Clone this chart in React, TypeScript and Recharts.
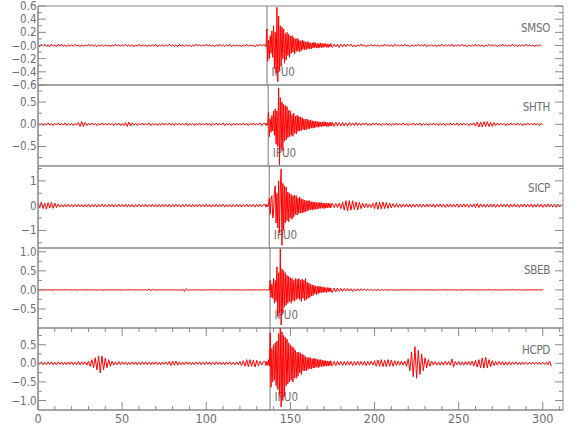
import React from "react";
import { LineChart, Line, XAxis, YAxis, ReferenceLine, ReferenceArea } from "recharts";

// whole traces: one sample per second
const SAMPLE_STEP = 1;

const SMSO = [
  .01,-.02,.02,-.01,.02,-.02,.01,-.02,.02,-.01,.01,-.02,.02,-.01,.02,-.01,.01,-.02,.01,-.01,
  .01,-.01,.02,-.01,.01,-.02,.01,-.01,.01,-.01,.02,-.01,.01,-.01,.01,-.02,.01,-.01,.01,-.01,
  .01,-.01,.01,-.02,.01,-.01,.02,-.01,.01,-.01,.01,-.01,.02,-.01,.01,-.01,.01,-.02,.01,-.01,
  .02,-.01,.01,-.01,.01,-.02,.01,-.01,.01,-.01,.02,-.02,.01,-.01,.01,-.01,.01,-.01,.02,-.01,
  .01,-.01,.01,-.02,.02,-.01,.01,-.01,.01,-.01,.01,-.02,.01,-.01,.02,-.01,.01,-.01,.01,-.01,
  .02,-.01,.01,-.01,.01,-.02,.01,-.01,.02,-.01,.01,-.01,.01,-.01,.02,-.02,.01,-.01,.01,-.01,
  .01,-.02,.01,-.01,.02,-.01,.01,-.01,.01,-.02,.01,-.01,.02,-.01,.01,-.02,.25,-.22,.12,-.15,
  .3,-.35,.58,-.55,.4,-.3,.28,-.25,.2,-.18,.15,-.14,.12,-.1,.1,-.09,.08,-.07,.07,-.06,
  .06,-.05,.05,-.04,.04,-.04,.03,-.03,.04,-.03,.03,-.03,.03,-.02,.03,-.03,.02,-.02,.02,-.03,
  .02,-.02,.02,-.02,.02,-.01,.02,-.02,.01,-.02,.01,-.01,.02,-.01,.01,-.02,.01,-.01,.02,-.01,
  .01,-.01,.01,-.02,.01,-.01,.02,-.01,.01,-.01,.01,-.02,.02,-.01,.01,-.01,.01,-.01,.02,-.01,
  .01,-.02,.01,-.01,.01,-.01,.02,-.01,.01,-.01,.02,-.02,.01,-.01,.01,-.01,.01,-.02,.01,-.01,
  .02,-.01,.01,-.01,.01,-.01,.02,-.02,.01,-.01,.01,-.01,.02,-.01,.01,-.02,.01,-.01,.01,-.01,
  .02,-.01,.01,-.01,.01,-.02,.01,-.01,.02,-.01,.01,-.01,.01,-.02,.01,-.01,.02,-.01,.01,-.01,
  .01,-.01,.02,-.01,.01,-.02,.01,-.01,.01,-.01,.02,-.01,.01,-.01,.01,-.02,.01,-.01,.01,-.01,
];

const SHTH = [
  .03,-.02,.02,-.03,.02,-.02,.03,-.02,.02,-.03,.02,-.02,.03,-.02,.02,-.02,.03,-.03,.02,-.02,
  .02,-.03,.02,-.02,.04,-.05,.06,-.05,.04,-.03,.02,-.02,.03,-.02,.02,-.03,.02,-.02,.03,-.02,
  .02,-.02,.03,-.02,.02,-.03,.02,-.02,.03,-.03,.02,-.03,.04,-.05,.05,-.04,.03,-.02,.02,-.03,
  .02,-.02,.03,-.02,.02,-.02,.03,-.03,.02,-.02,.02,-.03,.02,-.02,.03,-.02,.02,-.02,.03,-.02,
  .02,-.03,.02,-.02,.03,-.02,.02,-.02,.03,-.03,.02,-.02,.02,-.03,.02,-.02,.03,-.02,.02,-.02,
  .03,-.02,.02,-.03,.02,-.02,.03,-.02,.02,-.02,.03,-.03,.02,-.02,.02,-.03,.02,-.02,.03,-.02,
  .02,-.02,.03,-.02,.02,-.03,.02,-.02,.03,-.02,.02,-.02,.03,-.03,.02,-.02,.03,.28,-.28,.15,
  -.2,.35,-.45,.82,-.9,.5,-.6,.45,-.35,.4,-.3,.28,-.25,.22,-.2,.18,-.16,.15,-.14,.12,
  -.12,.1,-.1,.08,-.08,.07,-.08,.07,-.06,.07,-.06,.05,-.05,.05,-.05,.04,-.05,.05,-.04,.04,
  -.04,.04,-.04,.03,-.04,.04,-.03,.03,-.03,.04,-.03,.03,-.03,.03,-.02,.03,-.03,.02,-.03,.03,
  -.02,.03,-.02,.02,-.03,.02,-.02,.03,-.02,.02,-.03,.02,-.02,.03,-.02,.02,-.02,.03,-.02,.02,
  -.03,.02,-.02,.03,-.02,.02,-.02,.03,-.03,.02,-.02,.02,-.03,.02,-.02,.03,-.02,.02,-.03,.02,
  -.02,.02,-.03,.02,-.02,.03,-.02,.02,-.02,.03,-.03,.02,-.02,.03,-.02,.02,-.03,.02,-.02,.03,
  -.04,.05,-.06,.05,-.06,.06,-.05,.06,-.05,.04,-.05,.04,-.03,.03,-.02,.03,-.02,.02,-.03,.02,
  -.02,.03,-.02,.02,-.02,.03,-.02,.02,-.03,.02,-.02,.03,-.02,.02,-.02,.03,-.02,.02,-.03,.02,
  -.02,
];

const SICP = [
  .12,-.1,.15,-.12,.1,-.14,.12,-.1,.13,-.11,.1,-.08,.07,-.06,.05,-.06,.05,-.05,.06,-.05,
  .05,-.06,.05,-.05,.06,-.05,.05,-.06,.05,-.05,.06,-.06,.05,-.05,.05,-.06,.05,-.05,.06,-.05,
  .05,-.05,.06,-.05,.05,-.06,.05,-.05,.06,-.05,.05,-.05,.06,-.06,.05,-.05,.05,-.06,.05,-.05,
  .06,-.05,.05,-.05,.06,-.06,.05,-.05,.06,-.05,.05,-.06,.05,-.05,.06,-.05,.05,-.05,.06,-.06,
  .05,-.05,.06,-.05,.05,-.06,.05,-.05,.06,-.05,.05,-.05,.06,-.06,.05,-.05,.06,-.05,.05,-.05,
  .06,-.05,.05,-.06,.05,-.05,.06,-.05,.05,-.05,.06,-.06,.05,-.05,.05,-.06,.05,-.05,.06,-.05,
  .05,-.06,.05,-.05,.06,-.05,.05,-.05,.06,-.06,.05,-.05,.06,-.05,.05,-.05,.06,.3,-.35,.4,
  -.5,.8,-.7,1.0,-1.1,1.48,-1.6,.9,-1.0,.7,-.6,.55,-.5,.45,-.4,.4,-.35,.3,-.3,.28,
  -.25,.22,-.2,.2,-.18,.16,-.15,.15,-.14,.12,-.12,.12,-.1,.1,-.1,.09,-.08,.08,-.08,.1,
  -.12,.15,-.18,.2,-.22,.2,-.18,.2,-.16,.15,-.18,.14,-.12,.1,-.09,.08,-.08,.07,-.08,.1,
  -.12,.14,-.15,.14,-.13,.15,-.12,.13,-.11,.1,-.09,.08,-.07,.08,-.07,.06,-.07,.06,-.06,.07,
  -.06,.06,-.07,.06,-.06,.07,-.06,.06,-.07,.06,-.06,.07,-.06,.06,-.06,.07,-.07,.06,-.06,.07,
  -.06,.06,-.07,.06,-.06,.07,-.06,.06,-.06,.07,-.07,.06,-.06,.07,-.06,.06,-.07,.06,-.06,.07,
  -.08,.09,-.08,.07,-.06,.06,-.07,.06,-.06,.07,-.06,.06,-.07,.06,-.06,.07,-.06,.06,-.06,.07,
  -.07,.06,-.06,.07,-.06,.06,-.07,.06,-.06,.07,-.06,.06,-.06,.07,-.07,.06,-.06,.07,-.06,.06,
  -.07,.06,-.06,.07,-.06,.06,-.06,.07,-.07,.06,-.06,.05,
];

const SBEB = [
  .005,-.005,.005,-.005,.01,-.005,.005,-.005,.005,-.01,.005,-.005,.005,-.005,.005,-.005,.01,-.005,.005,-.005,
  .005,-.005,.005,-.01,.005,-.005,.005,-.005,.01,-.005,.005,-.005,.005,-.005,.005,-.01,.005,-.005,.005,-.005,
  .005,-.005,.01,-.005,.005,-.005,.005,-.005,.005,-.01,.005,-.005,.005,-.005,.01,-.005,.005,-.005,.005,-.005,
  .005,-.01,.005,-.005,.01,-.015,.02,-.02,.015,-.01,.005,-.005,.005,-.005,.005,-.005,.01,-.005,.005,-.005,
  .005,-.005,.005,-.01,.005,-.01,.02,-.04,.03,-.01,.005,-.005,.005,-.005,.005,-.005,.005,-.01,.005,-.005,
  .005,-.005,.01,-.005,.005,-.005,.005,-.005,.005,-.01,.005,-.005,.005,-.005,.01,-.005,.005,-.005,.005,-.005,
  .005,-.01,.005,-.005,.005,-.005,.005,-.005,.01,-.005,.005,-.005,.005,-.005,.005,-.01,.01,-.01,.25,-.2,
  .3,-.35,.6,-.7,1.08,-.92,.55,-.6,.45,-.4,.35,-.35,.3,-.28,.3,-.25,.3,-.28,.25,-.3,
  .2,-.2,.15,-.15,.1,-.12,.1,-.09,.1,-.08,.07,-.06,.06,-.06,.05,-.06,.05,-.05,.05,-.04,
  .04,-.04,.04,-.03,.04,-.03,.03,-.04,.03,-.03,.03,-.03,.03,-.02,.03,-.02,.02,-.02,.02,-.02,
  .02,-.02,.015,-.02,.015,-.015,.01,-.015,.01,-.01,.01,-.01,.01,-.01,.005,-.01,.005,-.005,.01,-.005,
  .005,-.005,.005,-.01,.005,-.005,.005,-.005,.01,-.005,.005,-.005,.005,-.005,.005,-.01,.005,-.005,.005,-.005,
  .005,-.005,.01,-.005,.005,-.005,.005,-.005,.005,-.01,.005,-.005,.005,-.005,.01,-.005,.005,-.005,.005,-.005,
  .005,-.01,.005,-.005,.005,-.005,.005,-.005,.01,-.005,.005,-.005,.005,-.005,.005,-.01,.005,-.005,.005,-.005,
  .005,-.005,.01,-.005,.005,-.005,.005,-.005,.005,-.01,.005,-.005,.005,-.005,.01,-.005,.005,-.005,.005,-.005,
  .005,
];

const HCPD = [
  .04,-.03,.04,-.04,.03,-.04,.04,-.03,.04,-.04,.03,-.04,.04,-.03,.04,-.04,.03,-.04,.04,-.03,
  .04,-.04,.03,-.04,.05,-.04,.04,-.03,.04,-.05,.06,-.08,.1,-.12,.15,-.18,.2,-.26,.2,-.17,
  .14,-.12,.1,-.08,.06,-.05,.04,-.04,.05,-.04,.04,-.03,.04,-.04,.03,-.04,.04,-.03,.04,-.04,
  .03,-.04,.04,-.03,.04,-.04,.03,-.04,.04,-.03,.04,-.04,.03,-.04,.04,-.03,.04,-.04,.05,-.06,
  .06,-.05,.06,-.05,.04,-.04,.03,-.04,.04,-.03,.04,-.04,.03,-.04,.04,-.03,.04,-.04,.03,-.04,
  .04,-.03,.04,-.04,.03,-.04,.04,-.03,.04,-.04,.03,-.04,.04,-.03,.04,-.04,.03,-.04,.04,-.04,
  .05,-.06,.07,-.08,.1,-.09,.1,-.08,.09,-.1,.08,-.07,.06,-.05,.05,-.06,.05,.1,.82,-.64,
  .5,-.45,.6,-.7,.95,-1.17,.85,-1.0,.7,-.6,.55,-.5,.45,-.45,.35,-.3,.3,-.25,.2,-.2,
  .15,-.14,.15,-.12,.13,-.12,.12,-.1,.1,-.1,.08,-.07,.07,-.06,.06,-.06,.05,-.06,.06,-.05,
  .05,-.06,.05,-.05,.06,-.05,.05,-.06,.05,-.05,.06,-.05,.05,-.05,.06,-.06,.05,-.05,.06,-.05,
  .07,-.08,.09,-.08,.1,-.09,.08,-.09,.1,-.08,.09,-.08,.07,-.06,.06,-.05,.06,-.05,.06,-.08,
  .12,-.2,.3,-.36,.45,-.4,.35,-.3,.25,-.2,.15,-.12,.1,-.08,.06,-.05,.05,-.05,.04,-.05,
  .04,-.05,.05,-.04,.05,-.05,.12,-.1,.05,-.04,.05,-.05,.04,-.05,.05,-.04,.05,-.05,.06,-.07,
  .08,-.1,.1,-.12,.14,-.13,.17,-.12,.1,-.09,.07,-.06,.05,-.05,.05,-.04,.05,-.05,.04,-.05,
  .04,-.04,.04,-.03,.04,-.04,.03,-.04,.04,-.03,.03,-.03,.03,-.03,.03,-.03,.03,-.03,.03,-.03,
  .03,-.03,.03,-.04,.06,-.08,
];

// the P-arrival burst, read at half-second spacing from 135 s to 175 s
const BURST_START = 135;
const BURST_STEP = 0.5;

const SMSO_BURST = [
  .01,-.02,.25,-.24,.08,-.2,.15,-.12,.22,-.18,.3,-.35,.2,-.42,.58,-.55,.45,-.38,.3,-.32,
  .28,-.2,.25,-.27,.18,-.22,.2,-.15,.17,-.18,.14,-.12,.15,-.1,.12,-.13,.1,-.09,.11,-.08,
  .09,-.1,.07,-.08,.08,-.06,.07,-.07,.05,-.06,.06,-.05,.05,-.05,.04,-.05,.04,-.04,.05,-.03,
  .04,-.04,.03,-.04,.03,-.03,.04,-.03,.03,-.03,.03,-.02,.03,-.03,.02,-.03,.02,-.02,.03,-.02,
];
const SHTH_BURST = [
  .02,-.03,.02,-.02,.28,-.28,.12,-.18,.2,-.15,.3,-.25,.35,-.45,.3,-.5,.82,-.92,.6,-.55,
  .5,-.6,.45,-.38,.42,-.35,.4,-.3,.32,-.28,.3,-.25,.22,-.27,.25,-.2,.18,-.22,.2,-.16,
  .18,-.15,.16,-.14,.15,-.12,.12,-.13,.11,-.12,.12,-.1,.09,-.1,.1,-.08,.08,-.09,.07,-.08,
  .07,-.06,.06,-.07,.06,-.05,.05,-.06,.05,-.05,.06,-.04,.05,-.05,.04,-.05,.04,-.04,.05,-.04,
];
const SICP_BURST = [
  .05,-.06,.05,-.05,.06,.3,-.35,.25,.4,-.5,-.3,.6,.8,-.7,.5,-.9,1.0,-1.1,.7,1.48,
  -1.6,.9,-1.0,.8,-.7,.75,-.6,.55,-.65,.5,-.5,.45,-.55,.4,-.45,.42,-.35,.4,-.38,.3,
  -.32,.35,-.3,.28,-.3,.25,-.27,.22,-.25,.2,-.22,.2,-.18,.2,-.17,.15,-.18,.16,-.15,.14,
  -.15,.13,-.14,.12,-.12,.13,-.11,.12,-.1,.11,-.12,.1,-.1,.1,-.09,.1,-.08,.09,-.09,.08,
];
const SBEB_BURST = [
  .005,-.005,.005,-.01,.01,-.01,.25,-.2,.15,-.22,.3,-.35,.25,-.3,.6,-.7,.45,-.6,1.08,-.92,
  .55,-.6,.5,-.45,.45,-.4,.38,-.35,.35,-.3,.32,-.35,.3,-.28,.25,-.3,.3,-.25,.28,-.22,
  .3,-.25,.25,-.3,.28,-.22,.25,-.28,.3,-.25,.2,-.22,.18,-.2,.15,-.16,.13,-.15,.12,-.1,
  .1,-.12,.09,-.1,.1,-.08,.09,-.07,.08,-.07,.07,-.06,.06,-.07,.06,-.05,.06,-.05,.05,-.06,
];
const HCPD_BURST = [
  .05,-.06,.05,-.05,.1,-.08,.82,-.64,.4,-.5,.5,-.45,.55,-.6,.6,-.7,.8,-.85,.95,-1.17,
  .85,-1.0,.75,-.9,.7,-.6,.65,-.55,.55,-.5,.5,-.45,.45,-.5,.42,-.4,.35,-.4,.3,-.35,
  .3,-.25,.28,-.3,.25,-.2,.22,-.2,.18,-.2,.15,-.16,.16,-.14,.15,-.15,.12,-.13,.14,-.12,
  .12,-.1,.11,-.12,.1,-.09,.1,-.08,.08,-.09,.08,-.07,.07,-.08,.06,-.07,.06,-.06,.07,-.06,
];

const TRACES = [SMSO, SHTH, SICP, SBEB, HCPD];
const BURSTS = [SMSO_BURST, SHTH_BURST, SICP_BURST, SBEB_BURST, HCPD_BURST];
const STATIONS = ["SMSO", "SHTH", "SICP", "SBEB", "HCPD"];
const PICK_TIMES = [136.1, 136.8, 137.4, 137.9, 137.9];
const PICK_LABEL = "IPU0";

const X_MAX = 312;
const X_TICKS = [0, 10, 20, 30, 40, 50, 60, 70, 80, 90, 100, 110, 120, 130, 140, 150, 160,
  170, 180, 190, 200, 210, 220, 230, 240, 250, 260, 270, 280, 290, 300, 310];
const X_LABELS = [0, 50, 100, 150, 200, 250, 300];

const Y_DOMAINS = [[-0.6, 0.6], [-0.94, 0.885], [-1.71, 1.6], [-1.0, 1.1], [-1.255, 0.95]];
const Y_MAJOR = [
  [-0.6, -0.4, -0.2, 0, 0.2, 0.4, 0.6],
  [-0.5, 0, 0.5],
  [-1, 0, 1],
  [-0.5, 0, 0.5, 1.0],
  [-1.0, -0.5, 0, 0.5],
];
const Y_LABELS = [
  ["\u22120.6", "\u22120.4", "\u22120.2", "\u22120.0", "0.2", "0.4", "0.6"],
  ["\u22120.5", "0.0", "0.5"],
  ["\u22121", "0", "1"],
  ["\u22120.5", "0.0", "0.5", "1.0"],
  ["\u22121.0", "\u22120.5", "0.0", "0.5"],
];
const Y_MINOR = [
  [-0.5, -0.3, -0.1, 0.1, 0.3, 0.5],
  [-0.75, -0.25, 0.25, 0.75],
  [-1.5, -0.5, 0.5, 1.5],
  [-0.75, -0.25, 0.25, 0.75],
  [-0.75, -0.25, 0.25, 0.75],
];

// layout
const W = 580;
const H = 440;
const LEFT = 38;
const RIGHT = 563;
const PANEL_TOP = [6, 85, 166, 248, 328];
const PANEL_BOTTOM = [85, 166, 248, 328, 410];
const FRAME = "#888";
const TEXT = "#6e6e6e";
const FONT = '"Liberation Sans Narrow", "DejaVu Sans Condensed", "Arial Narrow", sans-serif';

const buildRows = (trace: number[], burst: number[]) => {
  const burstEnd = BURST_START + burst.length * BURST_STEP;
  const rows: { t: number; v: number }[] = [];
  trace.forEach((v, k) => {
    const t = k * SAMPLE_STEP;
    if (t < BURST_START || t >= burstEnd) rows.push({ t, v });
  });
  burst.forEach((v, k) => rows.push({ t: BURST_START + k * BURST_STEP, v }));
  return rows.sort((a, b) => a.t - b.t);
};

const Panel = ({ i }: { i: number }) => {
  const top = PANEL_TOP[i];
  const bottom = PANEL_BOTTOM[i];
  const last = i === TRACES.length - 1;
  const xAxisH = last ? 30 : 0;
  const plotH = bottom - top;
  const [lo, hi] = Y_DOMAINS[i];
  const majors = Y_MAJOR[i];
  const yTicks = [...majors, ...Y_MINOR[i]].sort((a, b) => a - b);
  const rows = buildRows(TRACES[i], BURSTS[i]);

  const yTick = (p: any) => {
    const k = majors.indexOf(p.payload.value);
    const len = k >= 0 ? 8 : 4;
    const w = RIGHT - LEFT;
    return (
      <g>
        <line x1={p.x} x2={p.x + len} y1={p.y} y2={p.y} stroke={FRAME} />
        <line x1={p.x + w - len} x2={p.x + w} y1={p.y} y2={p.y} stroke={FRAME} />
        {k >= 0 && (
          <text x={p.x - 1.5} y={p.y} textAnchor="end" dominantBaseline="central"
            fill={TEXT} fontSize={11.5} fontFamily={FONT}>
            {Y_LABELS[i][k]}
          </text>
        )}
      </g>
    );
  };

  const xTick = (p: any) => {
    const major = X_LABELS.includes(p.payload.value);
    const len = major ? 8 : 4;
    return (
      <g>
        <line x1={p.x} x2={p.x} y1={p.y} y2={p.y - len} stroke={FRAME} />
        <line x1={p.x} x2={p.x} y1={p.y - plotH} y2={p.y - plotH + len} stroke={FRAME} />
        {last && major && (
          <text x={p.x} y={p.y + 8} textAnchor="middle" dominantBaseline="central"
            fill={TEXT} fontSize={12.5} fontFamily={FONT}>
            {p.payload.value}
          </text>
        )}
      </g>
    );
  };

  const pickLabel = (p: any) => {
    const vb = p.viewBox;
    return (
      <text x={vb.x + 4.5} y={vb.y + vb.height - 9} fill={TEXT} fontSize={11.5} fontFamily={FONT}>
        {PICK_LABEL}
      </text>
    );
  };

  return (
    <div style={{ position: "absolute", left: 0, top: 0 }}>
      <LineChart
        width={W}
        height={H}
        data={rows}
        margin={{ top, right: W - RIGHT, bottom: H - bottom - xAxisH, left: 0 }}
      >
        <XAxis
          dataKey="t"
          type="number"
          domain={[0, X_MAX]}
          allowDataOverflow
          ticks={X_TICKS}
          interval={0}
          height={xAxisH}
          tickLine={false}
          tickSize={0}
          tickMargin={0}
          axisLine={{ stroke: FRAME }}
          tick={xTick}
        />
        <YAxis
          type="number"
          domain={[lo, hi]}
          allowDataOverflow
          ticks={yTicks}
          interval={0}
          width={LEFT}
          tickLine={false}
          tickSize={0}
          tickMargin={0}
          axisLine={{ stroke: FRAME }}
          tick={yTick}
        />
        <ReferenceArea x1={0} x2={X_MAX} y1={lo} y2={hi} fill="none" stroke={FRAME} ifOverflow="visible" />
        <ReferenceLine x={PICK_TIMES[i]} stroke="#777" label={pickLabel} />
        <Line
          type="linear"
          dataKey="v"
          stroke="#ff0000"
          strokeWidth={1}
          dot={false}
          isAnimationActive={false}
        />
      </LineChart>
      <div
        style={{
          position: "absolute",
          right: W - 550,
          top: top + 15,
          fontFamily: FONT,
          fontSize: 11.5,
          lineHeight: "14px",
          color: TEXT,
          letterSpacing: "-0.3px",
        }}
      >
        {STATIONS[i]}
      </div>
    </div>
  );
};

export default function App() {
  return (
    <div style={{ position: "absolute", left: 0, top: 0, width: W, height: H, background: "#fff" }}>
      {TRACES.map((_, i) => (
        <Panel key={STATIONS[i]} i={i} />
      ))}
    </div>
  );
}
